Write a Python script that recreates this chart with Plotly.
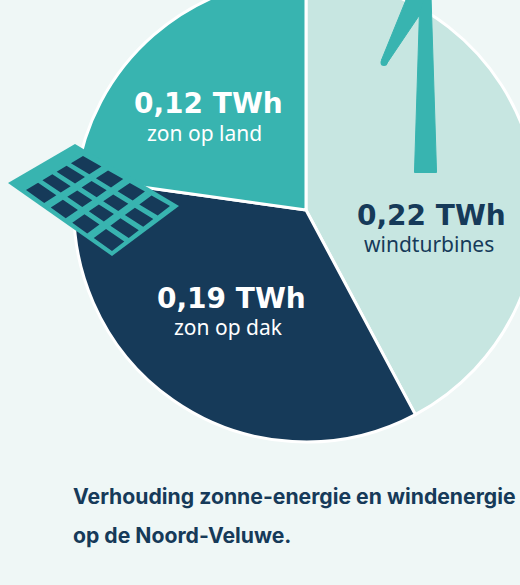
import plotly.graph_objects as go

categories = ["windturbines", "zon op dak", "zon op land"]
values_twh = [0.224, 0.186, 0.121]
value_labels = ["0,22 TWh", "0,19 TWh", "0,12 TWh"]
slice_colors = ["#c7e6e1", "#163a59", "#38b4b0"]
title_lines = ["Verhouding zonne-energie en windenergie", "op de Noord-Veluwe."]

BG, TEAL, NAVY = "#eff7f6", "#38b4b0", "#163a59"
FW, FH, TOP = 580, 660, 40   # page canvas is larger than the window; pie is cropped at the top and right
CX, CY, R = 306, 210, 232


def px(x):
    return x / FW


def py(y):
    return 1 - (y + TOP) / FH


def path(points):
    return "M" + " L".join(f"{px(x):.5f},{py(y):.5f}" for x, y in points) + " Z"


fig = go.Figure(go.Pie(
    labels=categories, values=values_twh, sort=False, direction="clockwise", rotation=0,
    marker=dict(colors=slice_colors, line=dict(color="white", width=3)),
    textinfo="none", hoverinfo="label+value", showlegend=False,
    domain=dict(x=[px(CX - R), px(CX + R)], y=[py(CY + R), py(CY - R)]),
))

shapes = []
# wind turbine
tower = [(420, -5), (431, -5), (436.5, 171), (436.5, 172.5), (414.5, 172.5), (414.5, 171)]
blade = [(408, -5), (381.5, 60), (386.5, 64), (419.5, 15), (425, -5)]
for poly in (tower, blade):
    shapes.append(dict(type="path", xref="paper", yref="paper", path=path(poly),
                       fillcolor=TEAL, line=dict(color=TEAL, width=1)))
shapes.append(dict(type="circle", xref="paper", yref="paper", x0=px(380.5), x1=px(387.5),
                   y0=py(66), y1=py(59), fillcolor=TEAL, line=dict(width=0)))
# solar panel
shapes.append(dict(type="path", xref="paper", yref="paper",
                   path=path([(8, 183), (75, 144), (179, 206), (112, 256)]),
                   fillcolor=TEAL, line=dict(width=0)))
A, B, C, D = (26, 190), (83, 156), (170, 206), (112, 251)


def bil(u, v):
    return tuple((1 - u) * (1 - v) * A[i] + u * (1 - v) * B[i] + u * v * C[i] + (1 - u) * v * D[i] for i in (0, 1))


N, gap = 4, 0.038
cells = ""
for i in range(N):
    for j in range(N):
        u0, u1 = i / N + (gap if i else 0), (i + 1) / N - (gap if i < N - 1 else 0)
        v0, v1 = j / N + (gap if j else 0), (j + 1) / N - (gap if j < N - 1 else 0)
        cells += path([bil(u0, v0), bil(u1, v0), bil(u1, v1), bil(u0, v1)])
shapes.append(dict(type="path", xref="paper", yref="paper", path=cells, fillcolor=NAVY, line=dict(width=0)))

anns = []


def text(x, y, s, size, color, weight=400, family="Noto Sans", anchor="center"):
    anns.append(dict(x=px(x), y=py(y), xref="paper", yref="paper", text=s, showarrow=False,
                     xanchor=anchor, yanchor="middle", align="left",
                     font=dict(family=family, size=size, color=color, weight=weight)))


LABEL = "DejaVu Sans"
text(208, 104, value_labels[2], 28, "white", 700, LABEL)
text(204.5, 133, categories[2], 21, "white")
text(231.5, 298, value_labels[1], 28, "white", 700, LABEL)
text(228.5, 327, categories[1], 21, "white")
text(431.5, 215, value_labels[0], 28, NAVY, 700, LABEL)
text(429, 244, categories[0], 21, NAVY)
text(70.5, 495.5, title_lines[0], 21.2, NAVY, 700, "Inter", "left")
text(70.5, 534.5, title_lines[1], 21.2, NAVY, 700, "Inter", "left")

fig.update_layout(width=FW, height=FH, margin=dict(l=0, r=0, t=0, b=0), autosize=False,
                  paper_bgcolor=BG, plot_bgcolor=BG, shapes=shapes, annotations=anns)

post = f"""
document.documentElement.style.overflow='hidden';
document.body.style.overflow='hidden';
document.body.style.margin='0';
document.body.style.background='{BG}';
var g=document.querySelector('.plotly-graph-div');
g.parentElement.style.marginTop='-{TOP}px';
"""
fig.write_html("out.html", post_script=post, config=dict(displayModeBar=False))
